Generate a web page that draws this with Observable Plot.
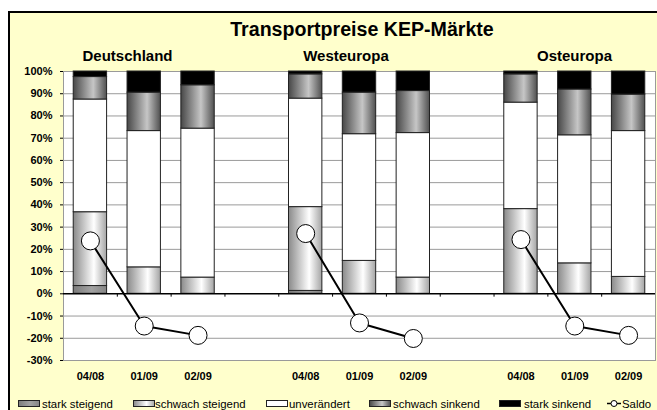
<!DOCTYPE html>
<html>
<head>
<meta charset="utf-8">
<script src="https://cdn.jsdelivr.net/npm/d3@7"></script>
<script src="https://cdn.jsdelivr.net/npm/@observablehq/plot@0.6"></script>
<style>
  html, body { margin: 0; padding: 0; background: #fff; overflow: hidden; }
  #wrap { position: relative; width: 657px; height: 410px; overflow: hidden; font-family: "Liberation Sans", Arial, sans-serif; }
  #frame { position: absolute; left: 8px; top: 11px; width: 700px; height: 450px; border: 2px solid #000; background: #ffffcc; }
  #chart, #overlay { position: absolute; left: 0; top: 0; }
  #overlay { pointer-events: none; }
</style>
</head>
<body>
<div id="wrap">
  <div id="frame"></div>
  <div id="chart"></div>
  <svg id="overlay" width="657" height="410"></svg>
</div>
<script>
// ---- Data ----
const title = "Transportpreise KEP-Märkte";
const groups = ["Deutschland", "Westeuropa", "Osteuropa"];
const periods = ["04/08", "01/09", "02/09"];
const series = ["stark steigend", "schwach steigend", "unverändert", "schwach sinkend", "stark sinkend"];
const starkSteigend   = [3.5, 0, 0,   1.3, 0, 0,   0, 0, 0];
const schwachSteigend = [33.2, 11.9, 7.3,   37.7, 14.8, 7.3,   38.1, 13.7, 7.6];
const unveraendert    = [50.7, 61.3, 67.0,  48.8, 57.0, 65.0,  47.9, 57.6, 65.6];
const schwachSinkend  = [10.1, 17.3, 19.5,  10.9, 18.7, 18.9,  12.7, 20.6, 16.4];
const starkSinkend    = [2.5, 9.5, 6.2,     1.3, 9.5, 8.8,     1.3, 8.1, 10.4];
const saldo           = [23.8, -14.5, -18.7, 27.1, -13.1, -20.1, 24.4, -14.5, -18.7];
const yTicks = [-30, -20, -10, 0, 10, 20, 30, 40, 50, 60, 70, 80, 90, 100];
const saldoLabel = "Saldo";

// ---- Build tables ----
const seriesValues = [starkSteigend, schwachSteigend, unveraendert, schwachSinkend, starkSinkend];
const slots = [];
groups.forEach((g, gi) => {
  if (gi > 0) slots.push("gap" + gi);
  periods.forEach(p => slots.push(g + "|" + p));
});
const barData = [];
const saldoData = [];
groups.forEach((g, gi) => {
  periods.forEach((p, pi) => {
    const k = gi * periods.length + pi;
    series.forEach((s, si) => {
      const v = seriesValues[si][k];
      if (v > 0) barData.push({slot: g + "|" + p, series: s, value: v});
    });
    saldoData.push({slot: g + "|" + p, group: g, value: saldo[k]});
  });
});

// ---- Layout ----
const W = 657, H = 410;
const mL = 63, mR = 2, mT = 71, mB = 50;
const step = (W - mL - mR) / slots.length;
const fills = ["url(#gSS)", "url(#gSW)", "#ffffff", "url(#gWS)", "#000000"];
const font = "Liberation Sans, Arial, sans-serif";

const chart = Plot.plot({
  width: W, height: H,
  marginLeft: mL, marginRight: mR, marginTop: mT, marginBottom: mB,
  style: {background: "transparent", fontFamily: font, color: "black", overflow: "visible"},
  x: {type: "band", domain: slots, paddingInner: 0.38, paddingOuter: 0.19, round: false, axis: null},
  y: {domain: [-30, 100], axis: null},
  color: {domain: series, range: fills},
  marks: [
    Plot.frame({fill: "white", stroke: "#9a9a9a"}),
    Plot.ruleY(yTicks.filter(d => d !== 0), {stroke: "#9a9a9a", strokeWidth: 1}),
    Plot.barY(barData, {x: "slot", y: "value", fill: "series", stroke: "#222", strokeWidth: 1}),
    Plot.ruleY([0], {stroke: "black", strokeWidth: 1.5}),
    Plot.ruleX(slots.slice(1), {x: d => d, y1: 0, y2: -1.5, dx: -step / 2, stroke: "black"}),
    Plot.axisY({ticks: yTicks, tickFormat: d => d + "%", tickSize: 3, tickPadding: 8,
                fontWeight: "bold", fontSize: 11, line: true, label: null}),
    Plot.axisX({tickSize: 0, tickPadding: 12, fontWeight: "bold", fontSize: 11, label: null,
                tickFormat: d => d.includes("|") ? d.split("|")[1] : ""}),
    Plot.line(saldoData, {x: "slot", y: "value", z: "group", stroke: "black", strokeWidth: 2}),
    Plot.dot(saldoData, {x: "slot", y: "value", r: 9, fill: "white", stroke: "black", strokeWidth: 1})
  ]
});
document.getElementById("chart").appendChild(chart);

// gradients
const defs = d3.select(chart).insert("defs", ":first-child");
function grad(id, stops) {
  const g = defs.append("linearGradient").attr("id", id).attr("x1", 0).attr("x2", 1).attr("y1", 0).attr("y2", 0);
  stops.forEach(([o, c]) => g.append("stop").attr("offset", o).attr("stop-color", c));
}
grad("gSS", [[0, "#7c7c7c"], [0.55, "#a2a2a2"], [1, "#858585"]]);
grad("gSW", [[0, "#8a8a8a"], [0.62, "#ffffff"], [1, "#a4a4a4"]]);
grad("gWS", [[0, "#474747"], [0.6, "#c6c6c6"], [1, "#505050"]]);

// ---- Overlay texts & legend ----
const ov = d3.select("#overlay").style("font-family", font);
ov.append("text").attr("x", 362).attr("y", 36).attr("text-anchor", "middle")
  .attr("font-size", 19.6).attr("font-weight", "bold").text(title);
const subX = [127.5, 346, 574.5];
groups.forEach((g, i) => {
  ov.append("text").attr("x", subX[i]).attr("y", 60.5).attr("text-anchor", "middle")
    .attr("font-size", 15).attr("font-weight", "bold").text(g);
});
const swX = [18, 133, 266, 369, 499];
const txX = [42, 155, 289, 393, 524];
series.forEach((s, i) => {
  ov.append("rect").attr("x", swX[i] + 0.5).attr("y", 400.5).attr("width", 21).attr("height", 6)
    .attr("fill", fills[i]).attr("stroke", "#222").attr("stroke-width", 1);
  ov.append("text").attr("x", txX[i]).attr("y", 408).attr("font-size", 11.4).text(s);
});
ov.append("line").attr("x1", 607).attr("x2", 621).attr("y1", 403.5).attr("y2", 403.5)
  .attr("stroke", "black").attr("stroke-width", 1.5);
ov.append("circle").attr("cx", 614).attr("cy", 403.5).attr("r", 3)
  .attr("fill", "white").attr("stroke", "black");
ov.append("text").attr("x", 622).attr("y", 408).attr("font-size", 11.4).text(saldoLabel);
</script>
</body>
</html>
